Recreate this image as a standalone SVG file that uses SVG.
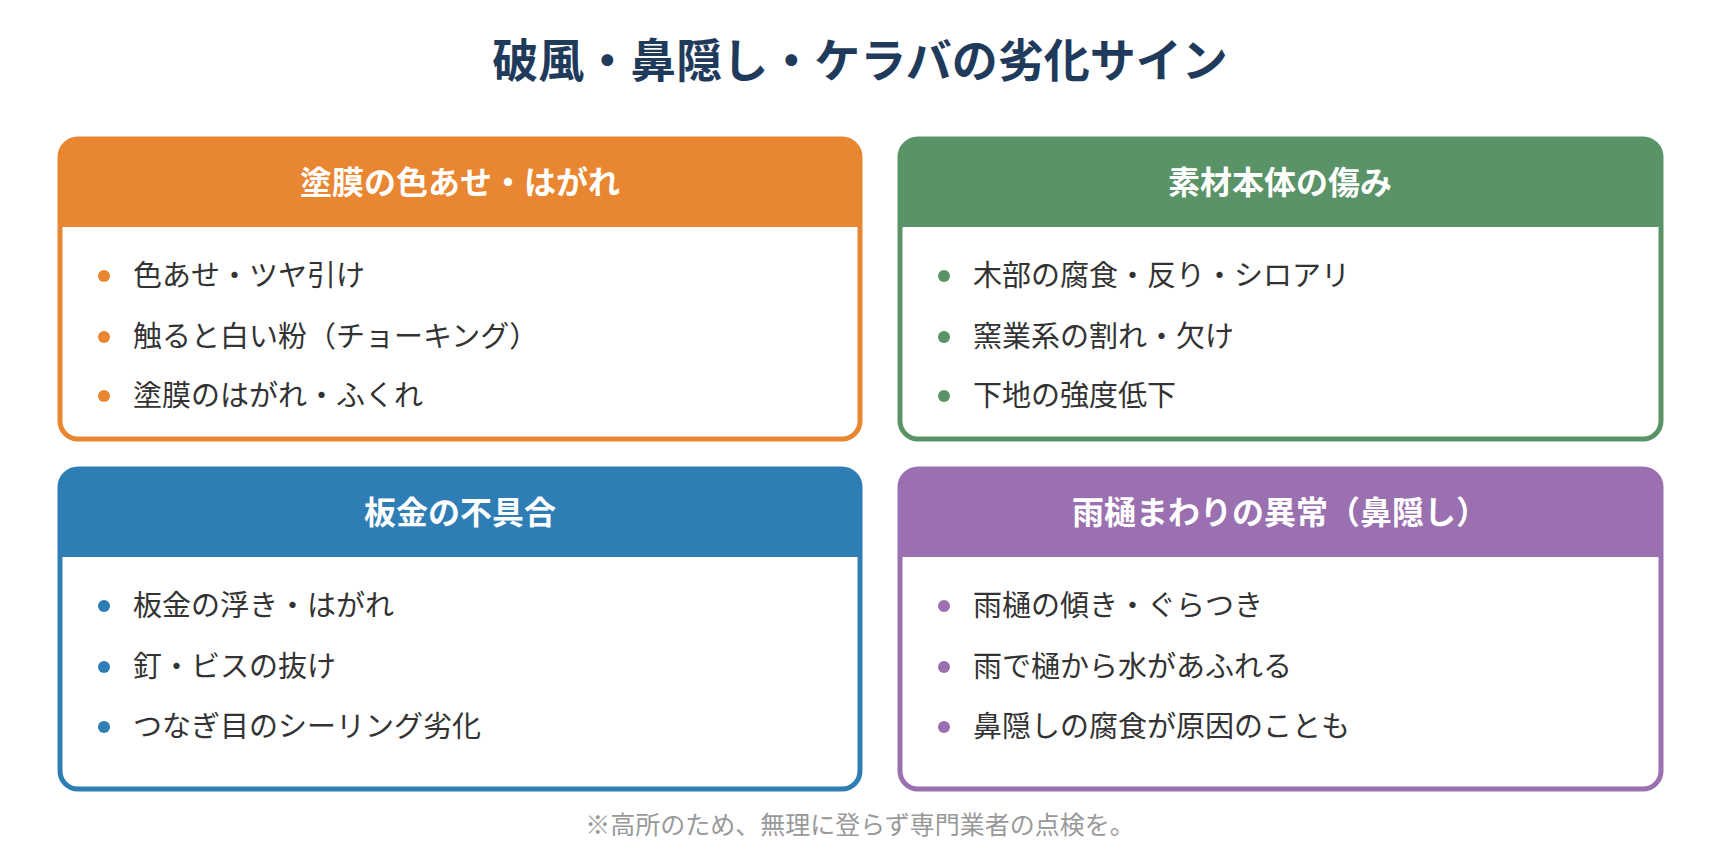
<svg xmlns="http://www.w3.org/2000/svg" width="1720" height="860" viewBox="0 0 1720 860">
<style>
text{font-family:"Noto Sans CJK JP","Noto Sans",sans-serif}
.t{font-size:46px;font-weight:700;fill:#1f3a5a}
.h{font-size:32px;font-weight:700;fill:#fff}
.i{font-size:29px;fill:#333}
.f{font-size:25px;fill:#999}
</style>
<rect width="1720" height="860" fill="#fff"/>
<text class="t" x="860" y="77" text-anchor="middle">破風・鼻隠し・ケラバの劣化サイン</text>
<g id="card1">
<rect x="60" y="139" width="800" height="300" rx="18" fill="#fff" stroke="#e88631" stroke-width="5"/>
<path d="M60 157a18 18 0 0 1 18-18h764a18 18 0 0 1 18 18v70h-800z" fill="#e88631"/>
<text class="h" x="460" y="194" text-anchor="middle">塗膜の色あせ・はがれ</text>
<g fill="#e88631"><circle cx="104" cy="276" r="6"/><circle cx="104" cy="337" r="6"/><circle cx="104" cy="396" r="6"/></g>
<text class="i" x="133" y="286">色あせ・ツヤ引け</text>
<text class="i" x="133" y="347">触ると白い粉（チョーキング）</text>
<text class="i" x="133" y="406">塗膜のはがれ・ふくれ</text>
</g>
<g id="card2">
<rect x="900" y="139" width="761" height="300" rx="18" fill="#fff" stroke="#5a9367" stroke-width="5"/>
<path d="M900 157a18 18 0 0 1 18-18h725a18 18 0 0 1 18 18v70h-761z" fill="#5a9367"/>
<text class="h" x="1280" y="194" text-anchor="middle">素材本体の傷み</text>
<g fill="#5a9367"><circle cx="944" cy="276" r="6"/><circle cx="944" cy="337" r="6"/><circle cx="944" cy="396" r="6"/></g>
<text class="i" x="973" y="286">木部の腐食・反り・シロアリ</text>
<text class="i" x="973" y="347">窯業系の割れ・欠け</text>
<text class="i" x="973" y="406">下地の強度低下</text>
</g>
<g id="card3">
<rect x="60" y="469" width="800" height="320" rx="18" fill="#fff" stroke="#2e7db5" stroke-width="5"/>
<path d="M60 487a18 18 0 0 1 18-18h764a18 18 0 0 1 18 18v70h-800z" fill="#2e7db5"/>
<text class="h" x="460" y="524" text-anchor="middle">板金の不具合</text>
<g fill="#2e7db5"><circle cx="104" cy="606" r="6"/><circle cx="104" cy="667" r="6"/><circle cx="104" cy="727" r="6"/></g>
<text class="i" x="133" y="616">板金の浮き・はがれ</text>
<text class="i" x="133" y="677">釘・ビスの抜け</text>
<text class="i" x="133" y="737">つなぎ目のシーリング劣化</text>
</g>
<g id="card4">
<rect x="900" y="469" width="761" height="320" rx="18" fill="#fff" stroke="#9a70b0" stroke-width="5"/>
<path d="M900 487a18 18 0 0 1 18-18h725a18 18 0 0 1 18 18v70h-761z" fill="#9a70b0"/>
<text class="h" x="1280" y="524" text-anchor="middle">雨樋まわりの異常（鼻隠し）</text>
<g fill="#9a70b0"><circle cx="944" cy="606" r="6"/><circle cx="944" cy="667" r="6"/><circle cx="944" cy="727" r="6"/></g>
<text class="i" x="973" y="616">雨樋の傾き・ぐらつき</text>
<text class="i" x="973" y="677">雨で樋から水があふれる</text>
<text class="i" x="973" y="737">鼻隠しの腐食が原因のことも</text>
</g>
<g id="connectors"/>
<text class="f" x="860" y="834" text-anchor="middle">※高所のため、無理に登らず専門業者の点検を。</text>
</svg>
